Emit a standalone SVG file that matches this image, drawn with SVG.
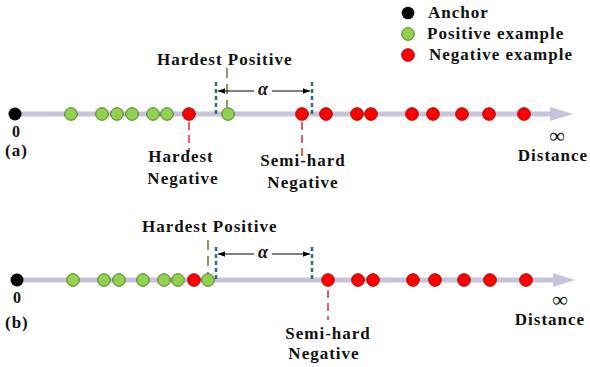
<svg xmlns="http://www.w3.org/2000/svg" width="590" height="367" viewBox="0 0 590 367">
<style>
  text { font-family: "Liberation Serif", "Times New Roman", serif; font-weight: bold; font-size: 17px; fill: #111; letter-spacing: 1px; }
  .alpha { font-style: italic; font-size: 18px; letter-spacing: 0; }
  .zero { font-size: 16px; letter-spacing: 0; }
  .inf { font-size: 22px; letter-spacing: 0; font-weight: normal; }
  .axis { stroke: #c8c2da; stroke-width: 5; }
  .head { fill: #c8c2da; }
  .pos { fill: #92d050; stroke: #4f7a28; stroke-width: 1; }
  .neg { fill: #ff0000; stroke: #b00000; stroke-width: 1; }
  .anc { fill: #000; }
  .margin { stroke: #2f6b7e; stroke-width: 2.5; stroke-dasharray: 4 3; fill: none; }
  .hp { stroke: #6b7436; stroke-width: 1.5; stroke-dasharray: 10 6; fill: none; }
  .hn { stroke: #e03030; stroke-width: 1.5; stroke-dasharray: 8 5; fill: none; }
  .dim { stroke: #000; stroke-width: 1; fill: none; }
</style>
<defs>
  <marker id="ah" viewBox="0 0 10 10" refX="10" refY="5" markerWidth="7" markerHeight="7" orient="auto-start-reverse" markerUnits="userSpaceOnUse">
    <path d="M0,1 L10,5 L0,9 Z" fill="#000"/>
  </marker>
</defs>

<g id="legend">
  <circle cx="408" cy="13" r="6.3" class="anc"/>
  <text x="428" y="18">Anchor</text>
  <circle cx="408" cy="34" r="6.3" class="pos"/>
  <text x="427" y="39">Positive example</text>
  <circle cx="408" cy="55" r="6.3" class="neg"/>
  <text x="429" y="60">Negative example</text>
</g>

<g id="panel-a">
  <g id="axis-a">
    <line x1="15" y1="114" x2="552" y2="114" class="axis"/>
    <polygon points="550,107 573,114 550,121" class="head"/>
  </g>
  <g id="connectors-a">
    <line x1="216" y1="82" x2="216" y2="116" class="margin"/>
    <line x1="312" y1="82" x2="312" y2="116" class="margin"/>
    <line x1="227" y1="68" x2="227" y2="107" class="hp" stroke-dasharray="3 8 30"/>
    <line x1="189" y1="122" x2="189" y2="152" class="hn"/>
    <line x1="302" y1="122" x2="302" y2="160" class="hn"/>
    <line x1="254" y1="91" x2="218" y2="91" class="dim" marker-end="url(#ah)"/>
    <line x1="272" y1="91" x2="310" y2="91" class="dim" marker-end="url(#ah)"/>
  </g>
  <g id="points-a">
    <circle cx="15" cy="114" r="6.5" class="anc"/>
    <circle cx="71" cy="114" r="6.3" class="pos"/>
    <circle cx="102" cy="114" r="6.3" class="pos"/>
    <circle cx="117" cy="114" r="6.3" class="pos"/>
    <circle cx="132" cy="114" r="6.3" class="pos"/>
    <circle cx="153" cy="114" r="6.3" class="pos"/>
    <circle cx="167" cy="114" r="6.3" class="pos"/>
    <circle cx="189" cy="114" r="6.3" class="neg"/>
    <circle cx="228" cy="114" r="6.3" class="pos"/>
    <circle cx="302" cy="114" r="6.3" class="neg"/>
    <circle cx="326" cy="114" r="6.3" class="neg"/>
    <circle cx="357" cy="114" r="6.3" class="neg"/>
    <circle cx="371" cy="114" r="6.3" class="neg"/>
    <circle cx="412" cy="114" r="6.3" class="neg"/>
    <circle cx="433" cy="114" r="6.3" class="neg"/>
    <circle cx="462" cy="114" r="6.3" class="neg"/>
    <circle cx="489" cy="114" r="6.3" class="neg"/>
    <circle cx="524" cy="114" r="6.3" class="neg"/>
  </g>
  <g id="labels-a">
    <text x="157" y="65">Hardest Positive</text>
    <text x="263" y="95" class="alpha" text-anchor="middle">α</text>
    <text x="16" y="137" class="zero" text-anchor="middle">0</text>
    <text x="5" y="156">(a)</text>
    <text x="181" y="162" text-anchor="middle">Hardest</text>
    <text x="183" y="184" text-anchor="middle">Negative</text>
    <text x="303" y="166" text-anchor="middle">Semi-hard</text>
    <text x="303" y="188" text-anchor="middle">Negative</text>
    <text x="557" y="143" class="inf" text-anchor="middle">∞</text>
    <text x="553" y="161" text-anchor="middle">Distance</text>
  </g>
</g>

<g id="panel-b">
  <g id="axis-b">
    <line x1="17" y1="280" x2="553" y2="280" class="axis"/>
    <polygon points="553,273 575,280 553,287" class="head"/>
  </g>
  <g id="connectors-b">
    <line x1="216" y1="247" x2="216" y2="280" class="margin"/>
    <line x1="312" y1="247" x2="312" y2="280" class="margin"/>
    <line x1="208" y1="240" x2="208" y2="274" class="hp"/>
    <line x1="328" y1="290" x2="328" y2="320" class="hn"/>
    <line x1="254" y1="254" x2="218" y2="254" class="dim" marker-end="url(#ah)"/>
    <line x1="272" y1="254" x2="310" y2="254" class="dim" marker-end="url(#ah)"/>
  </g>
  <g id="points-b">
    <circle cx="17" cy="280" r="6.5" class="anc"/>
    <circle cx="73" cy="280" r="6.3" class="pos"/>
    <circle cx="104" cy="280" r="6.3" class="pos"/>
    <circle cx="119" cy="280" r="6.3" class="pos"/>
    <circle cx="143" cy="280" r="6.3" class="pos"/>
    <circle cx="164" cy="280" r="6.3" class="pos"/>
    <circle cx="178" cy="280" r="6.3" class="pos"/>
    <circle cx="194" cy="280" r="6.3" class="neg"/>
    <circle cx="208" cy="280" r="6.3" class="pos"/>
    <circle cx="328" cy="280" r="6.3" class="neg"/>
    <circle cx="358" cy="280" r="6.3" class="neg"/>
    <circle cx="373" cy="280" r="6.3" class="neg"/>
    <circle cx="413" cy="280" r="6.3" class="neg"/>
    <circle cx="435" cy="280" r="6.3" class="neg"/>
    <circle cx="464" cy="280" r="6.3" class="neg"/>
    <circle cx="490" cy="280" r="6.3" class="neg"/>
    <circle cx="526" cy="280" r="6.3" class="neg"/>
  </g>
  <g id="labels-b">
    <text x="142" y="232">Hardest Positive</text>
    <text x="263" y="258" class="alpha" text-anchor="middle">α</text>
    <text x="17" y="303" class="zero" text-anchor="middle">0</text>
    <text x="5" y="328">(b)</text>
    <text x="328" y="339" text-anchor="middle">Semi-hard</text>
    <text x="324" y="359" text-anchor="middle">Negative</text>
    <text x="560" y="307" class="inf" text-anchor="middle">∞</text>
    <text x="550" y="325" text-anchor="middle">Distance</text>
  </g>
</g>
</svg>
